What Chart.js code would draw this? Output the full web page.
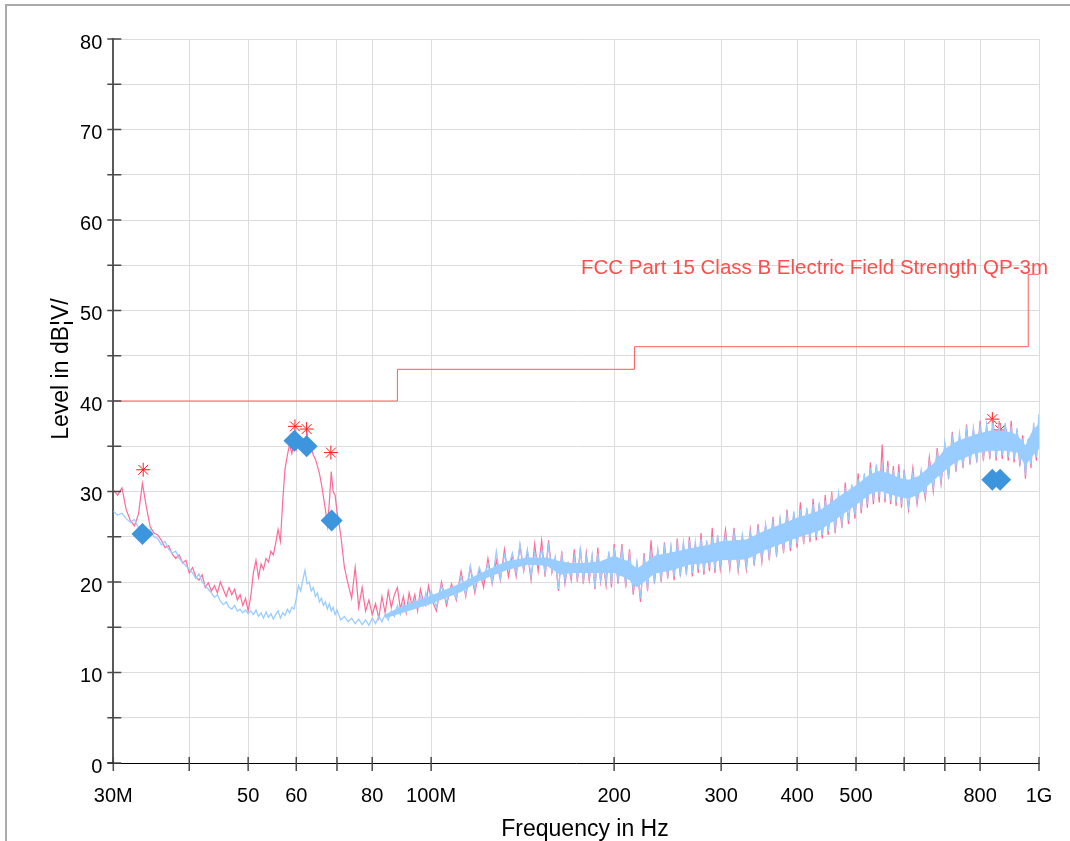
<!DOCTYPE html>
<html>
<head>
<meta charset="utf-8">
<script src="https://cdn.jsdelivr.net/npm/chart.js@4.4.1/dist/chart.umd.min.js"></script>
<style>
  html, body { margin: 0; padding: 0; background: #fff; overflow: hidden; }
  #frame { position: absolute; left: 5px; top: 4px; width: 1070px; height: 835px;
           border-top: 2px solid #ababab; border-left: 2px solid #ababab; border-bottom: 2px solid #ababab; }
  #c { position: absolute; left: 0; top: 0; }
</style>
</head>
<body>
<div id="frame"></div>
<canvas id="c" width="1070" height="841"></canvas>
<script>
// ---------- data (frequencies in MHz, levels in dBµV/m) ----------
const freqMHz = [
  30,30.5,31,31.5,32,32.5,33,33.5,34,34.5,35,35.5,36,36.5,37,37.5,38,38.5,39,39.5,40,40.5,41,41.5,42,42.5,43,43.5,44,44.5,45,45.5,46,46.5,47,47.5,48,48.5,49,49.5,50,
  50.5,51,51.5,52,52.5,53,53.5,54,54.5,55,55.5,56,56.5,57,57.5,58,58.5,59,59.5,60,60.5,61,61.5,62,62.5,63,63.5,64,64.5,65,65.5,66,66.5,67,67.5,68,68.5,69,69.5,70,
  71,72,73,74,75,76,77,78,79,80,81,82,83,84,85,86,87,88,89,90,91,92,93,94,95,96,97,98,99,100,
  102,104,106,108,110,112,114,116,118,120,122,124,126,128,130,132,134,136,138,140,142,144,146,148,150,152,154,156,158,160,162,164,166,168,170,172,174,176,178,180,182,184,186,188,190,192,194,196,198,200,
  203,206,209,212,215,218,221,224,227,230,233,236,239,242,245,248,251,254,257,260,263,266,269,272,275,278,281,284,287,290,293,296,299,
  305,310,315,320,325,330,335,340,345,350,355,360,365,370,375,380,385,390,395,400,405,410,415,420,425,430,435,440,445,450,
  456,462,468,474,480,486,492,498,504,510,516,522,528,534,540,546,552,558,564,570,576,582,588,594,600,
  610,620,630,640,650,660,670,680,690,700,710,720,730,740,750,760,770,780,790,800,810,820,830,840,850,860,870,880,890,900,910,920,930,940,950,960,970,980,990,1000
];

// max-peak trace (pink)
const peakLevel = [
  30.2,29.6,30.4,28.0,26.8,26.2,27.5,30.9,28.3,26.1,25.4,25.2,24.6,23.8,24.0,23.1,22.6,23.0,22.1,22.4,21.0,21.6,20.6,20.2,20.8,19.4,19.9,19.0,19.6,18.8,20.0,19.2,18.4,19.4,18.6,19.2,18.0,18.6,17.4,18.2,16.8,
  18.4,21.0,22.4,20.5,22.0,21.4,22.6,22.2,23.4,23.0,24.3,25.8,24.5,29.0,32.5,34.0,35.2,34.2,35.6,34.6,35.4,34.8,35.8,35.2,36.4,34.6,35.0,34.0,33.6,32.8,32.0,30.8,29.4,28.0,26.2,28.8,32.2,30.0,29.6,27.8,
  25.2,21.6,19.8,18.2,21.6,17.2,19.4,16.8,18.0,16.4,17.6,16.0,18.4,16.6,19.0,17.2,18.6,19.4,17.0,18.4,16.6,18.8,17.4,18.6,16.8,19.2,18.0,17.4,19.6,18.2,
  16.8,20.0,17.4,19.8,18.0,21.2,18.4,21.6,18.8,21.4,19.4,22.6,19.8,22.4,20.2,23.6,20.6,23.0,20.6,24.0,21.2,23.4,20.2,24.2,21.2,24.6,20.6,24.6,21.0,22.6,19.0,23.4,19.8,22.0,20.2,23.6,20.0,23.8,19.8,23.2,20.2,22.8,19.2,23.8,20.0,22.0,19.6,23.2,19.4,24.2,
  19.8,24.2,19.4,23.6,18.6,22.0,17.8,23.2,19.0,24.6,19.8,23.4,20.0,24.4,20.4,23.8,20.2,24.8,20.6,24.2,20.8,25.0,20.6,24.2,21.0,25.4,20.8,24.4,21.2,26.0,21.0,25.0,21.4,
  25.8,21.4,26.0,21.2,25.0,21.4,25.8,21.8,26.4,22.2,26.2,22.4,27.2,22.8,26.8,23.2,28.0,23.4,27.6,23.8,28.8,24.2,28.0,24.4,29.2,24.6,28.6,24.8,29.6,25.2,
  30.0,25.4,29.6,26.0,31.0,26.4,30.6,27.0,32.0,27.6,31.8,28.2,33.2,28.6,32.8,28.8,35.2,28.8,33.4,28.6,32.8,28.4,33.0,28.2,32.4,
  28.0,32.6,28.6,32.0,29.2,33.8,30.0,34.8,30.8,35.0,31.4,36.6,32.2,36.0,32.6,37.4,33.0,36.8,33.2,37.8,33.4,37.2,33.6,38.0,33.4,37.8,33.6,37.4,33.4,37.8,33.2,36.8,32.8,36.2,31.4,35.8,32.6,37.2,33.4,38.2
];

// second trace (light blue)
const avgLevel = [
  27.8,27.4,27.6,27.0,26.6,26.9,26.0,26.4,25.5,25.8,25.0,24.8,24.1,24.5,23.6,23.2,23.4,22.6,22.2,21.8,21.4,21.0,20.4,20.9,20.0,19.6,19.2,18.8,18.3,18.6,17.9,17.5,17.8,17.2,17.0,17.4,16.8,17.0,16.6,16.9,16.5,
  16.8,16.4,16.9,16.2,16.6,16.0,16.7,16.1,16.5,15.9,16.4,16.8,16.0,16.6,16.3,17.0,16.6,17.2,17.0,18.2,19.6,19.0,20.2,21.3,19.8,20.0,19.0,19.4,18.4,18.8,17.8,18.2,17.4,17.8,17.0,17.6,16.8,17.2,16.4,16.9,
  15.8,16.2,15.6,16.0,15.4,15.9,15.3,15.8,15.2,16.0,15.4,16.2,15.6,16.4,15.8,16.8,16.2,17.4,16.4,17.6,16.8,17.8,17.0,18.0,17.2,18.4,17.4,18.8,17.6,19.0,
  17.2,19.6,17.8,19.4,18.2,20.6,18.6,21.8,19.2,21.6,20.2,22.0,20.0,23.4,20.4,23.0,21.6,23.2,21.0,24.2,21.4,23.6,20.6,23.2,22.0,23.6,21.0,24.0,21.2,22.8,19.2,23.0,20.2,22.0,20.6,22.8,20.4,23.6,20.2,22.8,20.6,23.0,19.4,23.2,20.2,22.0,20.0,23.4,19.8,23.8,
  20.2,23.6,19.8,23.0,19.2,22.2,18.2,22.6,19.4,23.2,20.2,23.6,20.4,23.8,20.8,24.0,20.6,24.2,21.0,24.4,21.2,24.6,21.0,24.4,21.4,24.8,21.2,24.6,21.6,25.0,21.4,25.2,21.8,
  25.2,21.8,25.4,21.6,25.2,21.8,25.4,22.2,25.8,22.6,26.4,22.8,26.6,23.2,27.0,23.6,27.4,23.8,27.8,24.2,28.0,24.6,28.2,24.8,28.6,25.0,28.8,25.2,29.0,25.6,
  29.4,25.9,29.8,26.4,30.4,26.8,30.8,27.4,31.4,28.0,32.0,28.6,32.6,29.0,33.0,29.4,33.0,29.2,32.8,29.0,32.4,28.8,32.2,28.6,32.0,
  28.4,32.0,29.0,32.4,29.6,33.2,30.4,34.2,31.2,35.4,31.8,36.0,32.6,36.4,33.0,36.8,33.4,37.0,33.6,37.2,33.8,37.4,34.0,37.6,33.8,37.4,34.0,37.6,33.8,37.2,33.6,37.0,33.2,35.8,31.8,35.4,33.0,37.6,33.8,38.6
];

// dense part of the light-blue trace: solid core of its noise band (lower / upper edge)
const bandFreq    = [84,88,100,112,120,133,144,155,163,170,178,190,200,211,218,225,233,249,266,285,300,330,354,380,400,436,470,500,527,547,567,590,610,634,670,700,730,784,830,880,920,950,975,1000];
const avgBandLow  = [16.0,16.4,17.6,18.9,20.1,21.3,21.9,21.8,20.8,21.0,21.0,21.0,21.0,20.3,19.4,20.1,20.9,21.3,21.9,22.1,22.4,22.5,23.5,24.3,24.9,25.7,27.2,28.5,29.7,30.1,29.7,29.4,29.2,29.7,31.2,32.3,33.3,34.2,34.5,34.5,34.3,32.9,33.9,34.7];
const avgBandHigh = [16.4,17.1,18.5,19.9,20.9,22.3,22.7,22.7,22.3,22.1,22.1,22.3,22.9,22.3,21.5,22.1,22.9,23.3,23.7,24.1,24.5,24.7,25.7,26.5,27.1,27.9,29.5,30.7,31.9,32.3,32.0,31.5,31.3,31.7,33.1,34.7,35.5,36.3,36.7,36.7,36.3,35.1,36.7,37.5];

// FCC Part 15 Class B limit (3 m)
const limitFreq  = [30, 88, 88, 216, 216, 960, 960, 1000];
const limitLevel = [40, 40, 43.5, 43.5, 46, 46, 54, 54];
const limitName  = 'FCC Part 15 Class B Electric Field Strength QP-3m';

// peak markers (asterisks) and final quasi-peak results (diamonds)
const peakMarkFreq  = [33.6, 59.7, 62.4, 68.4, 838, 863];
const peakMarkLevel = [32.4, 37.2, 36.9, 34.3, 38.0, 36.8];
const qpFreq  = [33.5, 59.6, 62.4, 68.6, 838, 863];
const qpLevel = [25.3, 35.6, 35.0, 26.8, 31.3, 31.3];

// axes
const xTickValues = [30, 40, 50, 60, 70, 80, 100, 200, 300, 400, 500, 600, 700, 800, 1000];
const xTickLabels = ['30M', '', '50', '60', '', '80', '100M', '200', '300', '400', '500', '', '', '800', '1G'];
const yTickValues = [0, 5, 10, 15, 20, 25, 30, 35, 40, 45, 50, 55, 60, 65, 70, 75, 80];
const yTickLabels = ['0', '', '10', '', '20', '', '30', '', '40', '', '50', '', '60', '', '70', '', '80'];
const xTitle = 'Frequency in Hz';
const yTitle = 'Level in dB¦V/';

// ---------- chart ----------
const FONT = "'Liberation Sans', Arial, Helvetica, sans-serif";
Chart.defaults.font.family = FONT;

const pts = (xs, ys) => xs.map((x, i) => ({ x: x, y: ys[i] }));
const BLUE = '#99ccff';
const PINK = '#ff6a96';

const decor = {
  id: 'decor',
  afterDraw(chart) {
    const { ctx, chartArea: a, scales: { x, y } } = chart;
    ctx.save();
    ctx.strokeStyle = '#4a4a4a';
    ctx.lineWidth = 1.5;
    ctx.beginPath();
    yTickValues.forEach(v => {
      const py = y.getPixelForValue(v);
      ctx.moveTo(a.left - 6, py); ctx.lineTo(a.left + 8, py);
    });
    xTickValues.forEach(v => {
      const px = x.getPixelForValue(v);
      ctx.moveTo(px, a.bottom - 6); ctx.lineTo(px, a.bottom + 8);
    });
    ctx.stroke();
    ctx.strokeStyle = '#000'; ctx.lineWidth = 1;
    ctx.beginPath(); ctx.moveTo(a.left - 6, a.bottom); ctx.lineTo(a.left, a.bottom); ctx.stroke();

    ctx.fillStyle = '#ff4d4d';
    ctx.font = '20.5px ' + FONT;
    ctx.textAlign = 'right';
    ctx.textBaseline = 'alphabetic';
    ctx.fillText(limitName, x.getPixelForValue(1000) + 9, y.getPixelForValue(54));

    ctx.fillStyle = '#000';
    ctx.font = '23px ' + FONT;
    ctx.textAlign = 'center';
    ctx.fillText(xTitle, 585, 836);
    ctx.translate(67.5, 369);
    ctx.rotate(-Math.PI / 2);
    ctx.fillText(yTitle, 0, 0);
    ctx.restore();
  }
};

new Chart(document.getElementById('c'), {
  type: 'line',
  data: {
    datasets: [
      { label: 'QP result', data: pts(qpFreq, qpLevel), showLine: false,
        pointStyle: 'rectRot', pointRadius: 11, pointBackgroundColor: '#3d95dd',
        pointBorderColor: '#3d95dd', pointBorderWidth: 0, order: 0 },
      { label: 'Trace 2', data: pts(freqMHz, avgLevel), borderColor: BLUE,
        borderWidth: 1.3, pointRadius: 0, tension: 0, order: 1 },
      { label: 'Trace 2 band high', data: pts(bandFreq, avgBandHigh), borderColor: BLUE,
        borderWidth: 0, pointRadius: 0, tension: 0, fill: '+1', backgroundColor: BLUE, order: 1.5 },
      { label: 'Trace 2 band low', data: pts(bandFreq, avgBandLow), borderColor: BLUE,
        borderWidth: 0, pointRadius: 0, tension: 0, fill: false, order: 1.6 },
      { label: 'MaxPeak', data: pts(freqMHz, peakLevel), borderColor: PINK,
        borderWidth: 1.2, pointRadius: 0, tension: 0, order: 2 },
      { label: 'Peaks', data: pts(peakMarkFreq, peakMarkLevel), showLine: false,
        pointStyle: 'star', pointRadius: 7, pointBorderColor: '#ff1a1a',
        pointBackgroundColor: 'rgba(0,0,0,0)', pointBorderWidth: 1, order: 3 },
      { label: limitName, data: pts(limitFreq, limitLevel), borderColor: '#ff5c5c',
        borderWidth: 1, pointRadius: 0, tension: 0, order: 4 }
    ]
  },
  options: {
    responsive: false,
    animation: false,
    devicePixelRatio: 1,
    layout: { padding: { left: 0, right: 31, top: 39, bottom: 0 } },
    plugins: { legend: { display: false }, tooltip: { enabled: false } },
    scales: {
      x: {
        type: 'logarithmic', min: 30, max: 1000,
        afterBuildTicks: s => { s.ticks = xTickValues.map(v => ({ value: v })); },
        afterFit: s => { s.height = 78; s.paddingLeft = 0; s.paddingRight = 0; },
        ticks: { autoSkip: false, maxRotation: 0, minRotation: 0, padding: 21,
                 color: '#000', font: { size: 20 },
                 callback: (v, i) => xTickLabels[i] },
        grid: { color: '#dcdcdc', lineWidth: 1, drawTicks: false },
        border: { color: '#000', width: 1 }
      },
      y: {
        type: 'linear', min: 0, max: 80,
        afterBuildTicks: s => { s.ticks = yTickValues.map(v => ({ value: v })); },
        afterFit: s => { s.width = 113.3; s.paddingTop = 0; s.paddingBottom = 0; },
        ticks: { autoSkip: false, padding: 11, labelOffset: 4, color: '#000',
                 font: { size: 20 }, callback: (v, i) => yTickLabels[i] },
        grid: { color: '#dcdcdc', lineWidth: 1, drawTicks: false },
        border: { color: '#5a5a5a', width: 2 }
      }
    }
  },
  plugins: [decor]
});
</script>
</body>
</html>
